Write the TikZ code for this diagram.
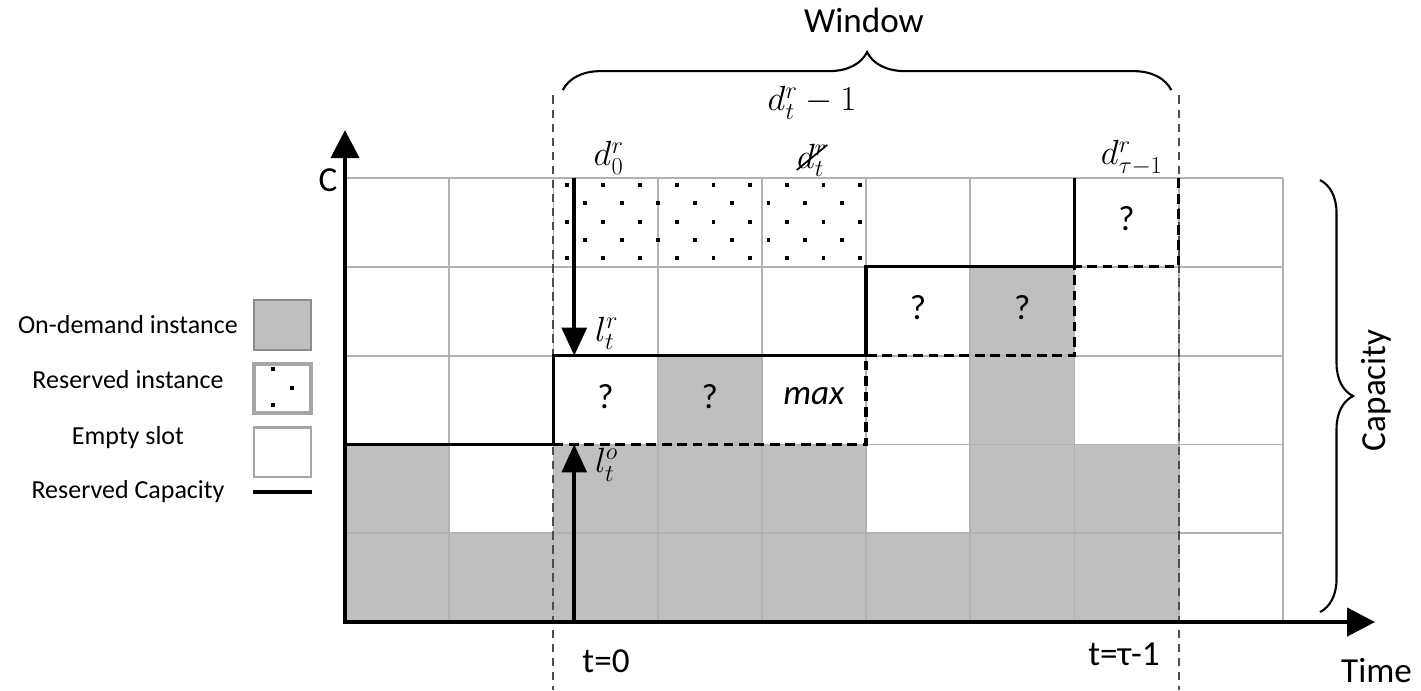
\documentclass[tikz,border=0pt]{standalone}
\usepackage{fontspec}
\setmainfont{Carlito}
\usetikzlibrary{arrows.meta,decorations.pathreplacing,positioning}

\begin{document}
\begin{tikzpicture}[x=2.605cm,y=2.22cm,font=\fontsize{25}{30}\selectfont]
  \useasboundingbox (-3.311,-0.766) rectangle (10.326,7.005);

  \tikzstyle{GridStyle}=[draw=black!30,line width=1.3pt,xstep=2.605cm,ystep=2.22cm]
  \tikzstyle{BusyCell}=[fill=black!25]
  \tikzstyle{CapStyle}=[line width=2.2pt]
  \tikzstyle{DashStyle}=[line width=2.2pt,dash pattern=on 7pt off 4pt]
  \tikzstyle{WinStyle}=[draw=black!70,line width=1.4pt,dash pattern=on 6pt off 4pt]
  \tikzstyle{AxisStyle}=[line width=3pt,-{Triangle[length=0.7cm,width=0.7cm]}]
  \tikzstyle{LevelArrow}=[line width=2.6pt,-{Triangle[length=0.7cm,width=0.62cm]}]
  \tikzstyle{BraceStyle}=[decorate,line width=1.5pt]
  \tikzstyle{MathLabel}=[font=\fontsize{27}{32}\selectfont,inner sep=1pt]
  \tikzstyle{LegendBox}=[line width=1.5pt,minimum width=1.43cm,minimum height=1.23cm,inner sep=0pt]
  \tikzstyle{LegendText}=[font=\fontsize{18.5}{22}\selectfont]

  \foreach \c/\r in {0/0,1/0,2/0,3/0,4/0,5/0,6/0,7/0,
                     0/1,2/1,3/1,4/1,6/1,7/1,
                     3/2,6/2,6/3}
    \fill[BusyCell] (\c,\r) rectangle ++(1,1);

  \draw[GridStyle] (0,0) grid (9,5);

  \foreach \j in {0,2,4}
    \foreach \i in {0,...,8}
      \fill ({2.128+0.352*\i},{4.921-0.206*\j}) +(-1.4pt,-1.4pt) rectangle +(1.4pt,1.4pt);
  \foreach \j in {1,3}
    \foreach \i in {0,...,7}
      \fill ({2.304+0.352*\i},{4.921-0.206*\j}) +(-1.4pt,-1.4pt) rectangle +(1.4pt,1.4pt);

  \coordinate (ws) at (2,5.93);
  \coordinate (wsb) at (2,-0.766);
  \coordinate (we) at (8,5.93);
  \coordinate (web) at (8,-0.766);
  \draw[WinStyle] (ws) -- (wsb);
  \draw[WinStyle] (we) -- (web);

  \draw[CapStyle] (0,2) -- (2,2) -- (2,3) -- (5,3) -- (5,4) -- (7,4) -- (7,5);
  \draw[DashStyle] (2,2) -- (5,2) -- (5,3) -- (7,3) -- (7,4) -- (8,4) -- (8,5);

  \coordinate (origin) at (0,0);
  \coordinate (ytip) at (0,5.54);
  \coordinate (xtip) at (9.885,0);
  \draw[AxisStyle] ([yshift=-1.5pt]origin) -- (ytip);
  \draw[AxisStyle] ([xshift=-1.5pt]origin) -- (xtip);

  \coordinate (rtop) at (2.2,5);
  \coordinate (rbot) at (2.2,3);
  \coordinate (obot) at (2.2,0);
  \coordinate (otop) at (2.2,2);
  \draw[LevelArrow] (rtop) -- (rbot);
  \draw[LevelArrow] (obot) -- (otop);

  \node[MathLabel] (lr) at (2.51,3.25) {$l_t^r$};
  \node[MathLabel] (lo) at (2.51,1.77) {$l_t^o$};
  \node[MathLabel] (dz) at (2.53,5.225) {$d_0^r$};
  \node[MathLabel] (dt) at (4.482,5.2) {$d_t^r$};
  \draw[line width=1.2pt] ([xshift=1pt,yshift=6pt]dt.south west) -- ([xshift=-1pt,yshift=-2pt]dt.north east);
  \node[MathLabel] (dtm) at (4.482,5.845) {$d_t^r-1$};
  \node[MathLabel] (dtau) at (7.55,5.225) {$d_{\tau-1}^r$};

  \node (q1) at (2.5,2.54) {?};
  \node (q2) at (3.5,2.54) {?};
  \node (mx) at (4.5,2.54) {\itshape max};
  \node (q3) at (5.5,3.54) {?};
  \node (q4) at (6.5,3.54) {?};
  \node (q5) at (7.5,4.54) {?};

  \node (cap) at (-0.163,4.98) {C};
  \node (tz) at (2.505,-0.44) {t=0};
  \node (tl) at (7.476,-0.36) {t=τ-1};
  \node (time) at (9.9,-0.55) {Time};

  \coordinate (bl) at (2.09,5.99);
  \coordinate (br) at (7.93,5.99);
  \draw[BraceStyle,decoration={brace,amplitude=0.95cm}] (bl) -- (br);
  \node (win) at (4.98,6.77) {Window};

  \coordinate (bt) at (9.357,4.977);
  \coordinate (bb) at (9.357,0.113);
  \draw[BraceStyle,decoration={brace,amplitude=0.825cm}] (bt) -- (bb);
  \node[rotate=90] (capy) at (9.9,2.61) {Capacity};

  \node[LegendText] (lgod) at (-2.083,3.345) {On-demand instance};
  \node[LegendText] (lgri) at (-2.083,2.725) {Reserved instance};
  \node[LegendText] (lges) at (-2.083,2.083) {Empty slot};
  \node[LegendText] (lgrc) at (-2.083,1.464) {Reserved Capacity};

  \node[LegendBox,draw=black!45,fill=black!25] (bxod) at (-0.6,3.345) {};
  \node[LegendBox,draw=black!35,line width=3pt] (bxri) at (-0.6,2.63) {};
  \fill (-0.691,2.849) +(-1.4pt,-1.4pt) rectangle +(1.4pt,1.4pt);
  \fill (-0.509,2.638) +(-1.4pt,-1.4pt) rectangle +(1.4pt,1.4pt);
  \fill (-0.691,2.44) +(-1.4pt,-1.4pt) rectangle +(1.4pt,1.4pt);
  \node[LegendBox,draw=black!35] (bxes) at (-0.6,1.914) {};
  \coordinate (lnl) at (-0.883,1.464);
  \coordinate (lnr) at (-0.317,1.464);
  \draw[line width=2.6pt] (lnl) -- (lnr);
\end{tikzpicture}
\end{document}
